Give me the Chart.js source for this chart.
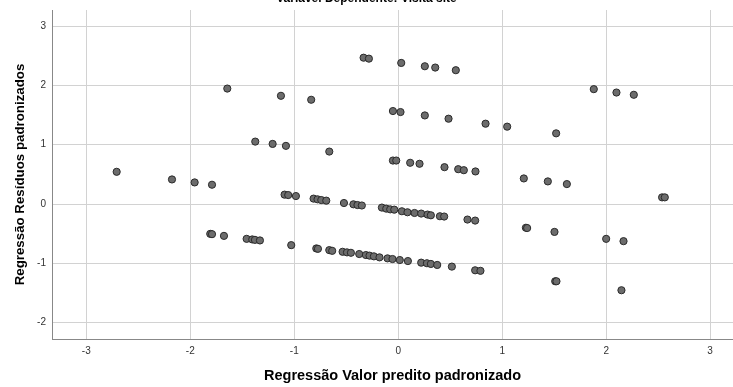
<!DOCTYPE html>
<html>
<head>
<meta charset="utf-8">
<script src="https://cdn.jsdelivr.net/npm/chart.js@4/dist/chart.umd.min.js"></script>
<style>
  html, body { margin: 0; padding: 0; background: #ffffff; }
  #wrap { width: 733px; height: 387px; }
</style>
</head>
<body>
<div id="wrap"><canvas id="c" width="733" height="387"></canvas></div>
<script>
const chartTitle = "Variável Dependente: Visita site";
const xAxisTitle = "Regressão Valor predito padronizado";
const yAxisTitle = "Regressão Resíduos padronizados";

// Standardized predicted values (x)
const predicted = [
  -0.333, -0.282, 0.029, 0.256, 0.356, 0.554,
  -1.644, -1.128, -0.837, 1.881, 2.099, 2.266,
  -0.051, 0.022, 0.256, 0.484, 0.840, 1.048, 1.519,
  -1.375, -1.208, -1.080, -0.663,
  -0.051, -0.019, 0.115, 0.205, 0.445, 0.577, 0.631, 0.743,
  -2.708, -2.176, -1.958, -1.791, 1.208, 1.439, 1.622, 2.538, 2.564,
  -1.093, -1.058, -0.984, -0.814, -0.776, -0.740, -0.692, -0.522, -0.431, -0.392, -0.350,
  -0.157, -0.115, -0.077, -0.038, 0.035, 0.089, 0.157, 0.221, 0.282, 0.314, 0.401, 0.442, 0.666, 0.740,
  -1.808, -1.791, -1.676, -1.458, -1.404, -1.378, -1.330, 1.228, 1.240, 1.503, 2.000, 2.167,
  -1.029, -0.788, -0.772, -0.663, -0.635, -0.535, -0.493, -0.455, -0.375, -0.311, -0.276, -0.234,
  -0.180, -0.103, -0.055, 0.015, 0.093, 0.221, 0.276, 0.314, 0.375, 0.516, 0.740, 0.791,
  1.510, 1.522, 2.147
];

// Standardized residuals (y)
const residuals = [
  2.466, 2.450, 2.378, 2.322, 2.300, 2.255,
  1.946, 1.824, 1.757, 1.936, 1.879, 1.841,
  1.567, 1.550, 1.493, 1.438, 1.354, 1.304, 1.191,
  1.052, 1.013, 0.980, 0.884,
  0.733, 0.733, 0.695, 0.678, 0.621, 0.587, 0.570, 0.549,
  0.543, 0.414, 0.364, 0.325, 0.431, 0.381, 0.336, 0.112, 0.112,
  0.158, 0.151, 0.134, 0.091, 0.079, 0.067, 0.057, 0.017, -0.005, -0.017, -0.025,
  -0.060, -0.078, -0.090, -0.095, -0.122, -0.139, -0.151, -0.161, -0.178, -0.190, -0.206, -0.211, -0.262, -0.279,
  -0.503, -0.508, -0.537, -0.587, -0.597, -0.604, -0.614, -0.400, -0.405, -0.470, -0.587, -0.626,
  -0.693, -0.749, -0.755, -0.777, -0.789, -0.805, -0.815, -0.822, -0.843, -0.860, -0.870, -0.882,
  -0.899, -0.916, -0.927, -0.944, -0.961, -0.988, -0.998, -1.010, -1.027, -1.055, -1.117, -1.126,
  -1.302, -1.302, -1.453
];

const points = predicted.map((x, i) => ({ x: x, y: residuals[i] }));

const FONT = "'Liberation Sans', Arial, sans-serif";

new Chart(document.getElementById('c'), {
  type: 'scatter',
  data: {
    datasets: [{
      data: points,
      pointRadius: 3.6,
      pointHoverRadius: 3.6,
      pointBackgroundColor: '#6c6c6c',
      pointBorderColor: '#2a2a2a',
      pointBorderWidth: 1
    }]
  },
  options: {
    responsive: false,
    animation: false,
    devicePixelRatio: 1,
    layout: { padding: 0, autoPadding: false },
    plugins: {
      legend: { display: false },
      tooltip: { enabled: false },
      title: {
        display: true,
        text: chartTitle,
        color: '#000000',
        font: { family: FONT, size: 12, weight: 'bold', lineHeight: 1.2 },
        padding: { top: -8.7, bottom: 4.3 }
      }
    },
    scales: {
      x: {
        type: 'linear',
        min: -3.33,
        max: 3.22,
        afterFit: (s) => { s.height = 48; s.paddingRight = 0; s.paddingLeft = 0; },
        ticks: {
          stepSize: 1,
          includeBounds: false,
          color: '#333333',
          padding: 6,
          font: { family: FONT, size: 10 },
          maxRotation: 0
        },
        grid: { color: '#d2d2d2', lineWidth: 1, drawTicks: false },
        border: { display: true, color: '#888888', width: 1 },
        title: {
          display: true,
          text: xAxisTitle,
          color: '#000000',
          font: { family: FONT, size: 14.5, weight: 'bold', lineHeight: 1.2 },
          padding: { top: 0, bottom: 2.3 }
        }
      },
      y: {
        type: 'linear',
        min: -2.275,
        max: 3.27,
        afterFit: (s) => { s.width = 52; s.paddingTop = 0; s.paddingBottom = 0; },
        ticks: {
          stepSize: 1,
          includeBounds: false,
          color: '#333333',
          padding: 6,
          font: { family: FONT, size: 10 }
        },
        grid: { color: '#d2d2d2', lineWidth: 1, drawTicks: false },
        border: { display: true, color: '#888888', width: 1 },
        title: {
          display: true,
          text: yAxisTitle,
          color: '#000000',
          font: { family: FONT, size: 13.3, weight: 'bold', lineHeight: 1.2 },
          padding: { top: 12, bottom: 0 }
        }
      }
    }
  }
});
</script>
</body>
</html>
